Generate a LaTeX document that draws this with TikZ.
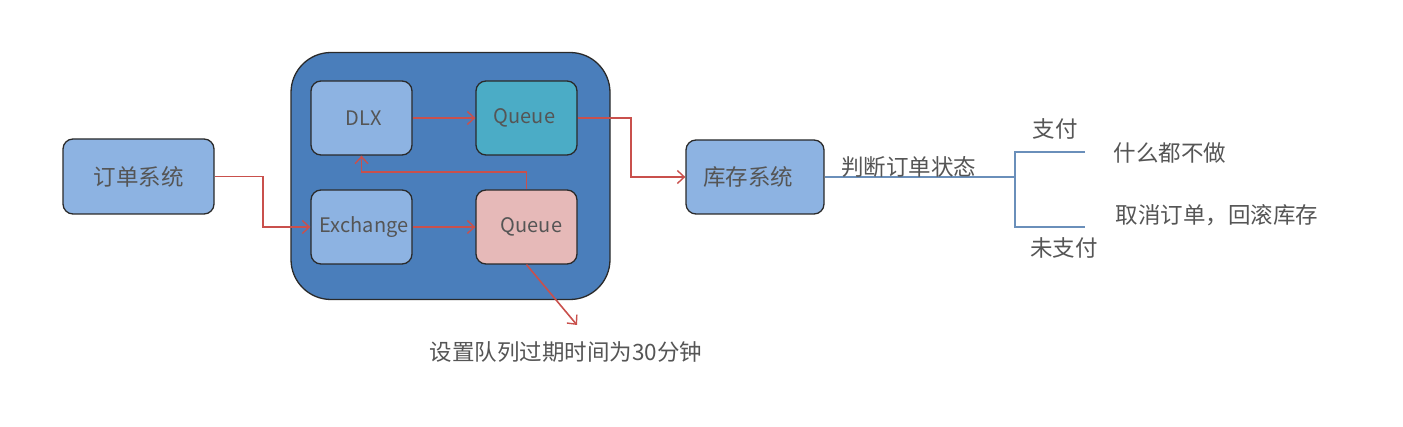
\documentclass[tikz,border=0pt]{standalone}
\usepackage{fontspec}
\setmainfont{Noto Sans CJK SC}
\usetikzlibrary{arrows.meta}
\definecolor{txt}{HTML}{555555}
\definecolor{outerblue}{HTML}{4A7EBB}
\definecolor{lightblue}{HTML}{8DB3E2}
\definecolor{qteal}{HTML}{4BACC6}
\definecolor{qpink}{HTML}{E6B9B8}
\definecolor{arrowred}{HTML}{C9504C}
\definecolor{blueline}{HTML}{6A8FBA}
\definecolor{edge}{HTML}{2A2A2A}
\tikzset{
  box/.style={draw=edge, line width=1.3pt, rounded corners=10pt, inner sep=0pt, text=txt},
  cjk/.style={font=\fontsize{22.5}{26}\selectfont},
  lat/.style={font=\fontsize{20}{22}\selectfont},
  redarrow/.style={draw=arrowred, line width=1.6pt, -{Straight Barb[length=7pt,width=13pt,line width=1.4pt]}},
  blueln/.style={draw=blueline, line width=1.3pt},
  lbl/.style={text=txt, inner sep=0pt, font=\fontsize{22.5}{26}\selectfont}
}
\begin{document}
\begin{tikzpicture}[x=1pt,y=-1pt]
\useasboundingbox (0,0) rectangle (1403,427);
% container
\node[box, fill=outerblue, rounded corners=40pt, minimum width=319pt, minimum height=247pt] (cont) at (450.5,176) {};
% boxes
\node[box, fill=lightblue, cjk, minimum width=151pt, minimum height=75pt] (order) at (138.5,176.5) {订单系统};
\node[box, fill=lightblue, lat, minimum width=101pt, minimum height=74pt] (dlx) at (361.5,118) {\raisebox{-5pt}{\hspace{4pt}DLX}};
\node[box, fill=qteal, lat, minimum width=101pt, minimum height=74pt] (q1) at (526.5,118) {\raisebox{1pt}{Queue\hspace{4pt}}};
\node[box, fill=lightblue, lat, minimum width=101pt, minimum height=74pt] (ex) at (361.5,227) {\hspace{5pt}Exchange};
\node[box, fill=qpink, lat, minimum width=101pt, minimum height=74pt] (q2) at (526.5,227) {\hspace{10pt}Queue};
\node[box, fill=lightblue, cjk, minimum width=138pt, minimum height=74pt] (stock) at (755,177) {\hspace{-14pt}库存系统};
% coordinates
\coordinate (b1) at (263,176.5);
\coordinate (k) at (361.5,172);
\coordinate (tip) at (577,325);
\coordinate (b2) at (631,118);
\coordinate (br) at (1015,177);
\coordinate (t1) at (1015,152);
\coordinate (t2) at (1015,227);
\coordinate (p1) at (1085,152);
\coordinate (p2) at (1085,227);
% red connectors
\draw[redarrow] (order.east) -- (b1) |- (ex.west);
\draw[redarrow] (dlx.east) -- (q1.west);
\draw[redarrow] (ex.east) -- (q2.west);
\draw[redarrow] (q2.north) |- (k) -- (dlx.south);
\draw[redarrow] (q2.south) -- (tip);
\draw[redarrow] (q1.east) -- (b2) |- (stock.west);
% blue tree
\draw[blueln] (stock.east) -- (br);
\draw[blueln] (p1) -- (t1) -- (t2) -- (p2);
% labels
\node[lbl] (judge) at (908.5,167) {判断订单状态};
\node[lbl] (pay) at (1055,129) {支付};
\node[lbl] (unpay) at (1064,248) {未支付};
\node[lbl] (nothing) at (1170,153) {什么都不做};
\node[lbl] (cancel) at (1217,215) {取消订单，回滚库存};
\node[lbl] (ttl) at (566,352) {设置队列过期时间为30分钟};
\end{tikzpicture}
\end{document}
